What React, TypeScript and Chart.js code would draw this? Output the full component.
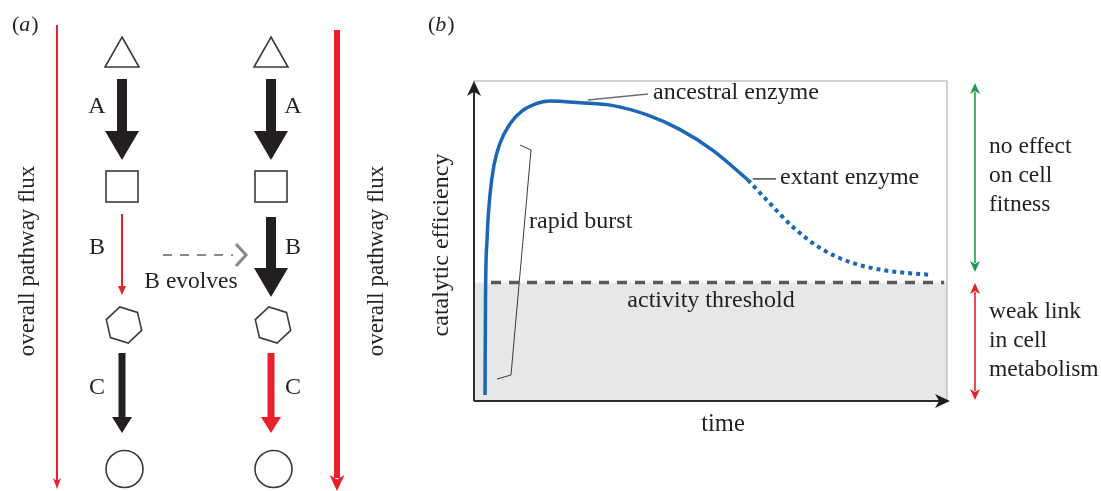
import React, { useEffect, useRef } from 'react';
import { Chart, registerables } from 'chart.js';

Chart.register(...registerables);

// ---- Data (panel b) ----
const solidTime = [2.33, 2.43, 2.75, 3.38, 4.23, 5.5, 7.6, 10.1, 12.9, 16.1, 22.4, 29.4, 36.6, 43.6, 50.5, 57.9];
const solidEff = [1.9, 31.6, 50.3, 64.4, 73.75, 80.6, 86.6, 90.6, 92.8, 93.75, 93.2, 92.3, 89.4, 84.8, 78.3, 69.1];
const dottedTime = [57.9, 61.9, 67.4, 73.2, 79.5, 86.5, 96.4];
const dottedEff = [69.1, 62.8, 54.4, 47.8, 43.4, 40.9, 39.4];
const thresholdTime = [3.6, 99.4];
const thresholdEff = [37, 37];

// ---- Labels ----
const enzymes = ['A', 'B', 'C'];
const fitnessLabel = ['no effect', 'on cell', 'fitness'];
const weakLabel = ['weak link', 'in cell', 'metabolism'];

const FONT = '"Liberation Serif", "Times New Roman", serif';
const INK = '#231f20';
const RED = '#e8202a';
const GREEN = '#1f9a4c';
const BLUE = '#1b67b5';

function text(ctx: CanvasRenderingContext2D, s: string, x: number, y: number, align: CanvasTextAlign = 'left', size = 24, color = INK) {
  ctx.save();
  ctx.font = `${size}px ${FONT}`;
  ctx.fillStyle = color;
  ctx.textAlign = align;
  ctx.textBaseline = 'middle';
  ctx.fillText(s, x, y);
  ctx.restore();
}

function panelLabel(ctx: CanvasRenderingContext2D, letter: string, x: number, y: number) {
  ctx.save();
  ctx.fillStyle = INK;
  ctx.textBaseline = 'middle';
  ctx.font = `22px ${FONT}`;
  ctx.fillText('(', x, y);
  let cx = x + ctx.measureText('(').width;
  ctx.font = `italic 22px ${FONT}`;
  ctx.fillText(letter, cx, y);
  cx += ctx.measureText(letter).width + 1;
  ctx.font = `22px ${FONT}`;
  ctx.fillText(')', cx, y);
  ctx.restore();
}

function rotText(ctx: CanvasRenderingContext2D, s: string, x: number, y: number, size = 23) {
  ctx.save();
  ctx.translate(x, y);
  ctx.rotate(-Math.PI / 2);
  text(ctx, s, 0, 0, 'center', size);
  ctx.restore();
}

function blockArrowDown(ctx: CanvasRenderingContext2D, x: number, y0: number, tip: number, shaftW: number, headW: number, headL: number, color: string) {
  ctx.save();
  ctx.fillStyle = color;
  ctx.fillRect(x - shaftW / 2, y0, shaftW, tip - headL - y0 + 1);
  ctx.beginPath();
  ctx.moveTo(x - headW / 2, tip - headL);
  ctx.lineTo(x + headW / 2, tip - headL);
  ctx.lineTo(x, tip);
  ctx.closePath();
  ctx.fill();
  ctx.restore();
}

function stealthHead(ctx: CanvasRenderingContext2D, tx: number, ty: number, dx: number, dy: number, len: number, half: number, color: string) {
  const px = -dy, py = dx;
  ctx.save();
  ctx.fillStyle = color;
  ctx.beginPath();
  ctx.moveTo(tx, ty);
  ctx.lineTo(tx - dx * len + px * half, ty - dy * len + py * half);
  ctx.lineTo(tx - dx * len * 0.72, ty - dy * len * 0.72);
  ctx.lineTo(tx - dx * len - px * half, ty - dy * len - py * half);
  ctx.closePath();
  ctx.fill();
  ctx.restore();
}

function vLine(ctx: CanvasRenderingContext2D, x: number, y0: number, y1: number, w: number, color: string) {
  ctx.save();
  ctx.strokeStyle = color;
  ctx.lineWidth = w;
  ctx.beginPath();
  ctx.moveTo(x, y0);
  ctx.lineTo(x, y1);
  ctx.stroke();
  ctx.restore();
}

function drawPanelA(ctx: CanvasRenderingContext2D) {
  panelLabel(ctx, 'a', 12, 25);
  vLine(ctx, 57, 25, 482, 2, RED);
  stealthHead(ctx, 57, 489, 0, 1, 11, 4, RED);
  vLine(ctx, 337, 30, 478, 6, RED);
  stealthHead(ctx, 337, 491, 0, 1, 16, 7.5, RED);
  rotText(ctx, 'overall pathway flux', 28, 261);
  rotText(ctx, 'overall pathway flux', 377, 261);

  const cols = [122, 271];
  ctx.save();
  ctx.strokeStyle = '#3a3a3a';
  ctx.lineWidth = 1.6;
  cols.forEach((cx) => {
    ctx.beginPath();
    ctx.moveTo(cx, 37);
    ctx.lineTo(cx + 17, 67);
    ctx.lineTo(cx - 17, 67);
    ctx.closePath();
    ctx.stroke();
    ctx.strokeRect(cx - 16, 171, 32, 31);
    ctx.beginPath();
    for (let k = 0; k < 6; k++) {
      const a = ((17 + 60 * k) * Math.PI) / 180;
      const px = cx + 2 + 18.5 * Math.cos(a);
      const py = 325 + 18.5 * Math.sin(a);
      if (k === 0) ctx.moveTo(px, py); else ctx.lineTo(px, py);
    }
    ctx.closePath();
    ctx.stroke();
    ctx.beginPath();
    ctx.arc(cx + 2.5, 469, 18.5, 0, Math.PI * 2);
    ctx.stroke();
  });
  ctx.restore();

  blockArrowDown(ctx, 122, 79, 160, 10, 34, 29, INK);
  vLine(ctx, 122, 214, 288, 2, RED);
  blockArrowDown(ctx, 122, 286, 295, 2, 8, 9, RED);
  blockArrowDown(ctx, 122, 353, 433, 7, 20, 16, INK);
  blockArrowDown(ctx, 271, 79, 160, 10, 34, 29, INK);
  blockArrowDown(ctx, 271, 217, 297, 10, 34, 29, INK);
  blockArrowDown(ctx, 271, 353, 433, 7, 20, 16, RED);

  const ys = [107, 248, 388];
  enzymes.forEach((e, i) => {
    text(ctx, e, 97, ys[i], 'center');
    text(ctx, e, 293, ys[i], 'center');
  });

  ctx.save();
  ctx.strokeStyle = '#8a8a8a';
  ctx.lineWidth = 2;
  ctx.setLineDash([9, 8]);
  ctx.beginPath();
  ctx.moveTo(163, 255);
  ctx.lineTo(233, 255);
  ctx.stroke();
  ctx.setLineDash([]);
  ctx.lineWidth = 3.2;
  ctx.beginPath();
  ctx.moveTo(236, 244);
  ctx.lineTo(246, 255);
  ctx.lineTo(236, 266);
  ctx.stroke();
  ctx.restore();
  text(ctx, 'B evolves', 191, 282, 'center', 23.5);
}

const diagramPlugin = {
  id: 'diagram',
  beforeDatasetsDraw(chart: any) {
    const ctx: CanvasRenderingContext2D = chart.ctx;
    const { left, right, top, bottom } = chart.chartArea;
    const yS = chart.scales.y;
    const ty = yS.getPixelForValue(thresholdEff[0]);
    ctx.save();
    ctx.fillStyle = '#e6e7e8';
    ctx.fillRect(left, ty, right - left, bottom - ty);
    ctx.strokeStyle = '#b5b5b5';
    ctx.lineWidth = 1.2;
    ctx.strokeRect(left, top, right - left, bottom - top);
    ctx.restore();
  },
  afterDraw(chart: any) {
    const ctx: CanvasRenderingContext2D = chart.ctx;
    const { left, right, top, bottom } = chart.chartArea;
    const xS = chart.scales.x;
    const yS = chart.scales.y;
    ctx.save();
    ctx.strokeStyle = '#2b2b2b';
    ctx.lineWidth = 2;
    ctx.beginPath();
    ctx.moveTo(left, bottom);
    ctx.lineTo(left, top + 8);
    ctx.moveTo(left, bottom);
    ctx.lineTo(right - 6, bottom);
    ctx.stroke();
    ctx.restore();
    stealthHead(ctx, left, top, 0, -1, 15, 7, '#1e1e1e');
    stealthHead(ctx, right + 3, bottom, 1, 0, 15, 7, '#1e1e1e');

    panelLabel(ctx, 'b', 428, 25);
    rotText(ctx, 'catalytic efficiency', 442, 245, 24);
    text(ctx, 'time', 723, 425, 'center', 24.5);
    text(ctx, 'activity threshold', 711, 301, 'center');

    const ax = xS.getPixelForValue(24.5);
    ctx.save();
    ctx.strokeStyle = '#6d6e70';
    ctx.lineWidth = 1.3;
    ctx.beginPath();
    ctx.moveTo(ax - 2, 100);
    ctx.lineTo(648, 94);
    ctx.stroke();
    const ex = xS.getPixelForValue(solidTime[solidTime.length - 1]);
    const ey = yS.getPixelForValue(solidEff[solidEff.length - 1]);
    ctx.strokeStyle = '#4a4a4a';
    ctx.lineWidth = 1.5;
    ctx.beginPath();
    ctx.moveTo(ex + 5, ey - 1);
    ctx.lineTo(776, ey - 1);
    ctx.stroke();
    ctx.strokeStyle = '#3a3a3a';
    ctx.lineWidth = 1;
    ctx.beginPath();
    ctx.moveTo(520, 145);
    ctx.lineTo(531, 150);
    ctx.lineTo(511, 375);
    ctx.lineTo(497, 379);
    ctx.stroke();
    ctx.restore();
    text(ctx, 'ancestral enzyme', 653, 93);
    text(ctx, 'extant enzyme', 780, 178);
    text(ctx, 'rapid burst', 529, 222);

    vLine(ctx, 975, 92, 263, 1.6, GREEN);
    stealthHead(ctx, 975, 83, 0, -1, 11, 5, GREEN);
    stealthHead(ctx, 975, 272, 0, 1, 11, 5, GREEN);
    vLine(ctx, 975, 292, 391, 1.6, RED);
    stealthHead(ctx, 975, 283, 0, -1, 11, 5, RED);
    stealthHead(ctx, 975, 400, 0, 1, 11, 5, RED);
    fitnessLabel.forEach((s, i) => text(ctx, s, 989, 147 + i * 29, 'left', 23.5));
    weakLabel.forEach((s, i) => text(ctx, s, 989, 312 + i * 29, 'left', 23.5));

    drawPanelA(ctx);
  },
};

export default function App() {
  const ref = useRef<HTMLCanvasElement>(null);
  useEffect(() => {
    document.body.style.margin = '0';
    const canvas = ref.current!;
    const chart = new Chart(canvas, {
      type: 'line',
      data: {
        datasets: [
          {
            label: 'threshold',
            data: thresholdTime.map((t, i) => ({ x: t, y: thresholdEff[i] })),
            borderColor: '#58595b',
            borderWidth: 3.5,
            borderDash: [10, 8],
            pointRadius: 0,
            tension: 0,
            order: 3,
          },
          {
            label: 'extant',
            data: dottedTime.map((t, i) => ({ x: t, y: dottedEff[i] })),
            borderColor: BLUE,
            borderWidth: 4,
            borderDash: [4, 4],
            pointRadius: 0,
            cubicInterpolationMode: 'monotone',
            order: 2,
          },
          {
            label: 'ancestral',
            data: solidTime.map((t, i) => ({ x: t, y: solidEff[i] })),
            borderColor: BLUE,
            borderWidth: 3.5,
            pointRadius: 0,
            cubicInterpolationMode: 'monotone',
            order: 1,
          },
        ],
      },
      options: {
        responsive: false,
        animation: false,
        devicePixelRatio: 1,
        events: [],
        layout: { padding: { left: 474, top: 81, right: 154, bottom: 90 } },
        plugins: { legend: { display: false }, tooltip: { enabled: false } },
        scales: {
          x: { type: 'linear', min: 0, max: 100, display: false },
          y: { type: 'linear', min: 0, max: 100, display: false },
        },
      },
      plugins: [diagramPlugin],
    } as any);
    return () => chart.destroy();
  }, []);
  return (
    <div style={{ position: 'fixed', left: 0, top: 0, width: 1101, height: 491, background: '#fff' }}>
      <canvas ref={ref} width={1101} height={491} style={{ width: 1101, height: 491, display: 'block' }} />
    </div>
  );
}
